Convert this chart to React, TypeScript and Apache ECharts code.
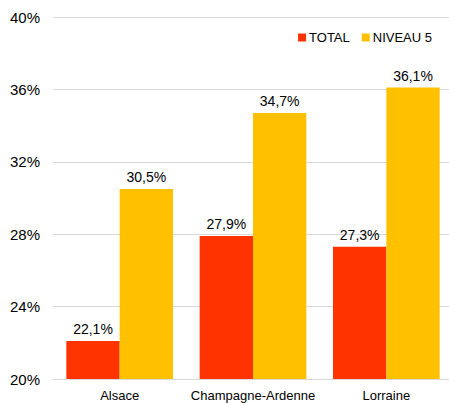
import React, { useEffect, useRef } from "react";
import * as echarts from "echarts";

const categories = ["Alsace", "Champagne-Ardenne", "Lorraine"];
const totalValues = [22.1, 27.9, 27.3];
const niveau5Values = [30.5, 34.7, 36.1];
const seriesNames = ["TOTAL", "NIVEAU 5"];

const fmt = (v: number) => v.toFixed(1).replace(".", ",") + "%";

export default function App() {
  const ref = useRef<HTMLDivElement>(null);
  useEffect(() => {
    document.body.style.margin = "0";
    const chart = echarts.init(ref.current!, null, { renderer: "svg" });
    const font = "Liberation Sans, Arial, sans-serif";
    const label = {
      show: true,
      position: "top",
      distance: 5,
      color: "#000",
      fontSize: 14,
      fontFamily: font,
      formatter: (p: any) => fmt(p.value),
    };
    chart.setOption({
      animation: false,
      backgroundColor: "#fff",
      grid: {
        left: 53,
        width: 400,
        top: 17,
        bottom: 24,
        containLabel: false,
        outerBoundsMode: "none",
      },
      legend: {
        data: seriesNames,
        right: 12,
        top: 26,
        itemWidth: 8,
        itemHeight: 8,
        itemGap: 12,
        icon: "rect",
        textStyle: { fontSize: 13, fontFamily: font, color: "#000", padding: [0, 0, 0, -2] },
      },
      xAxis: {
        type: "category",
        data: categories,
        axisTick: { show: false },
        axisLine: { show: true, lineStyle: { color: "#d9d9d9" } },
        axisLabel: { color: "#000", fontSize: 13, fontFamily: font, margin: 10, interval: 0 },
      },
      yAxis: {
        type: "value",
        min: 20,
        max: 40,
        interval: 4,
        axisLine: { show: false },
        axisTick: { show: false },
        splitLine: { lineStyle: { color: "#d9d9d9" } },
        axisLabel: {
          color: "#000",
          fontSize: 15,
          fontFamily: font,
          margin: 13,
          formatter: (v: number) => v + "%",
        },
      },
      series: [
        {
          name: seriesNames[0],
          type: "bar",
          data: totalValues,
          itemStyle: { color: "#FF3300" },
          barGap: "0%",
          barCategoryGap: "20%",
          label,
        },
        {
          name: seriesNames[1],
          type: "bar",
          data: niveau5Values,
          itemStyle: { color: "#FFC000" },
          barGap: "0%",
          barCategoryGap: "20%",
          label,
        },
      ],
    });
    return () => chart.dispose();
  }, []);
  return <div ref={ref} style={{ width: 449, height: 403 }} />;
}
